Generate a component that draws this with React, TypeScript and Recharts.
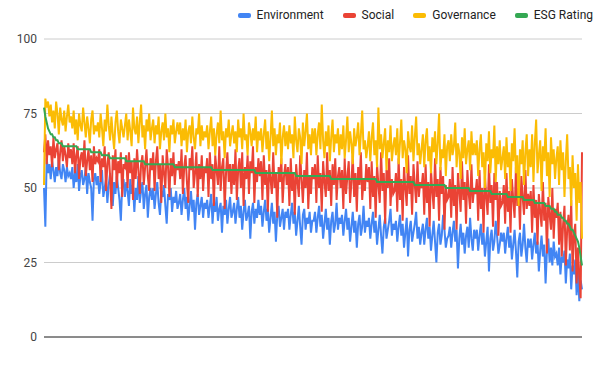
import React from "react";
import { LineChart, Line, XAxis, YAxis, CartesianGrid, ReferenceLine, Legend } from "recharts";

const yTicks = [0, 25, 50, 75, 100];

const seriesNames = ["Environment", "Social", "Governance", "ESG Rating"];
const seriesColors = ["#4285F4", "#EA4335", "#FBBC04", "#34A853"];

const environment = [
  50, 37, 60, 55, 58, 53, 59, 56, 52, 57, 54, 60, 55, 53, 58, 56, 52, 57, 54, 55,
  53, 57, 50, 55, 52, 58, 49, 54, 56, 51, 53, 57, 48, 55, 52, 50, 39, 53, 55, 51,
  54, 48, 52, 56, 47, 50, 53, 45, 51, 55, 49, 44, 52, 48, 54, 50, 46, 39, 51, 53,
  47, 52, 49, 44, 53, 48, 51, 42, 50, 46, 54, 45, 49, 52, 43, 48, 51, 40, 47, 50,
  46, 50, 43, 48, 52, 45, 41, 49, 47, 51, 44, 38, 48, 46, 50, 42, 47, 45, 49, 43,
  45, 48, 41, 46, 50, 43, 47, 39, 44, 49, 42, 46, 36, 45, 48, 41, 44, 47, 40, 45,
  43, 46, 40, 44, 48, 38, 45, 42, 47, 39, 43, 45, 35, 44, 41, 46, 38, 43, 47, 40,
  42, 45, 38, 43, 47, 40, 44, 36, 42, 46, 39, 41, 44, 33, 42, 45, 38, 43, 40, 46,
  41, 44, 37, 42, 46, 39, 43, 35, 40, 45, 38, 42, 32, 41, 44, 37, 40, 43, 36, 42,
  40, 43, 36, 41, 45, 38, 42, 34, 39, 44, 37, 31, 41, 43, 36, 40, 38, 42, 35, 39,
  39, 42, 35, 40, 44, 37, 41, 33, 38, 43, 36, 40, 31, 39, 42, 35, 38, 45, 36, 40,
  38, 41, 34, 39, 43, 36, 40, 32, 37, 42, 35, 39, 30, 38, 41, 34, 37, 44, 35, 39,
  37, 40, 33, 38, 42, 35, 39, 31, 36, 41, 34, 28, 37, 40, 33, 36, 39, 43, 34, 38,
  36, 39, 32, 37, 41, 34, 38, 30, 35, 40, 27, 36, 39, 32, 35, 38, 42, 33, 37, 31,
  35, 38, 31, 36, 40, 33, 37, 29, 34, 39, 32, 25, 35, 38, 31, 34, 41, 36, 30, 33,
  34, 37, 30, 35, 39, 32, 36, 23, 33, 38, 31, 35, 28, 34, 37, 30, 40, 33, 29, 36,
  33, 36, 29, 34, 38, 31, 35, 27, 32, 37, 22, 33, 36, 29, 32, 39, 34, 28, 31, 35,
  32, 35, 28, 33, 37, 30, 34, 26, 31, 36, 29, 20, 32, 35, 27, 31, 38, 30, 25, 33,
  30, 33, 26, 31, 35, 28, 32, 22, 29, 34, 27, 31, 18, 29, 33, 25, 30, 24, 32, 27,
  28, 24, 30, 21, 27, 25, 29, 18, 26, 23, 28, 16, 24, 21, 26, 14, 22, 12, 19, 16,
];

const social = [
  62, 68, 58, 66, 61, 64, 57, 67, 60, 63, 65, 56, 62, 66, 59, 64, 61, 57, 65, 60,
  63, 58, 65, 55, 61, 64, 53, 60, 62, 57, 66, 54, 59, 63, 56, 61, 52, 64, 58, 60,
  59, 63, 52, 60, 57, 64, 49, 58, 62, 54, 43, 61, 56, 63, 50, 59, 55, 62, 47, 58,
  57, 61, 50, 62, 55, 59, 46, 60, 53, 63, 56, 48, 58, 61, 51, 57, 63, 54, 49, 60,
  56, 62, 49, 59, 64, 53, 58, 45, 61, 55, 50, 63, 57, 47, 60, 54, 62, 51, 58, 56,
  59, 53, 63, 48, 57, 61, 52, 45, 60, 56, 64, 50, 55, 62, 47, 58, 53, 61, 49, 57,
  55, 60, 47, 62, 53, 58, 44, 61, 56, 51, 64, 49, 57, 60, 43, 55, 62, 52, 58, 48,
  58, 51, 63, 46, 56, 60, 50, 62, 44, 57, 53, 61, 48, 59, 55, 64, 45, 57, 52, 60,
  54, 59, 46, 61, 51, 56, 42, 58, 53, 48, 62, 50, 55, 40, 57, 52, 60, 45, 54, 58,
  51, 57, 44, 60, 49, 55, 41, 58, 52, 47, 61, 53, 45, 56, 50, 62, 43, 54, 48, 57,
  53, 58, 45, 61, 50, 55, 42, 59, 52, 47, 62, 49, 56, 44, 58, 51, 60, 46, 54, 57,
  50, 56, 43, 60, 48, 54, 59, 45, 52, 61, 47, 55, 42, 57, 51, 62, 46, 53, 49, 58,
  52, 57, 43, 59, 47, 54, 40, 58, 51, 45, 62, 49, 55, 38, 56, 50, 60, 44, 53, 48,
  49, 55, 42, 60, 46, 53, 39, 57, 50, 44, 61, 48, 54, 41, 58, 51, 45, 59, 47, 52,
  50, 55, 41, 58, 45, 52, 37, 56, 49, 43, 60, 47, 53, 39, 57, 48, 54, 36, 51, 46,
  47, 53, 40, 57, 44, 51, 36, 55, 49, 42, 59, 46, 52, 38, 56, 48, 43, 58, 45, 50,
  48, 53, 39, 56, 43, 50, 35, 54, 47, 41, 58, 45, 51, 37, 55, 46, 52, 34, 49, 44,
  45, 51, 38, 55, 42, 49, 35, 53, 46, 40, 57, 44, 50, 36, 54, 47, 41, 56, 43, 48,
  44, 49, 35, 51, 40, 46, 31, 48, 42, 37, 52, 39, 45, 28, 47, 41, 36, 50, 33, 43,
  40, 45, 31, 42, 27, 38, 44, 24, 36, 41, 29, 46, 22, 34, 38, 18, 30, 20, 13, 62,
];

const governance = [
  51, 80, 77, 79, 74, 78, 72, 76, 70, 79, 75, 68, 77, 73, 71, 76, 69, 74, 78, 72,
  74, 70, 76, 68, 73, 66, 75, 71, 69, 77, 72, 67, 74, 70, 65, 73, 76, 68, 71, 69,
  72, 67, 75, 70, 64, 73, 69, 78, 71, 66, 74, 68, 63, 72, 76, 69, 65, 73, 70, 67,
  71, 75, 66, 73, 69, 64, 77, 70, 68, 74, 65, 72, 78, 67, 71, 63, 73, 69, 75, 66,
  70, 73, 65, 71, 68, 74, 63, 69, 72, 66, 75, 67, 70, 62, 71, 68, 73, 65, 69, 72,
  68, 72, 64, 70, 66, 73, 62, 69, 71, 65, 74, 67, 63, 70, 68, 75, 64, 71, 66, 69,
  67, 71, 63, 69, 74, 64, 70, 61, 68, 72, 65, 76, 66, 69, 60, 70, 67, 73, 64, 68,
  71, 65, 69, 62, 73, 67, 70, 63, 75, 66, 68, 61, 72, 69, 64, 70, 66, 74, 62, 69,
  66, 70, 62, 68, 73, 63, 69, 59, 67, 76, 64, 70, 61, 68, 65, 72, 58, 67, 71, 64,
  69, 63, 71, 65, 68, 60, 74, 66, 62, 70, 67, 58, 72, 64, 69, 75, 63, 68, 61, 70,
  65, 70, 61, 68, 72, 63, 78, 66, 60, 69, 64, 71, 59, 67, 73, 62, 68, 65, 70, 61,
  68, 63, 71, 60, 66, 74, 62, 69, 65, 58, 70, 64, 67, 72, 61, 68, 76, 63, 66, 60,
  64, 69, 59, 67, 72, 61, 66, 57, 77, 63, 68, 60, 65, 70, 56, 66, 62, 71, 59, 64,
  67, 61, 70, 58, 65, 73, 60, 66, 63, 55, 69, 64, 62, 71, 59, 67, 74, 61, 65, 58,
  63, 68, 57, 66, 70, 59, 64, 55, 67, 62, 69, 58, 65, 75, 56, 63, 60, 68, 54, 64,
  66, 59, 68, 61, 64, 72, 57, 65, 62, 53, 67, 60, 70, 58, 63, 66, 56, 69, 61, 65,
  61, 66, 54, 63, 68, 57, 62, 50, 65, 59, 69, 55, 63, 60, 71, 52, 64, 58, 66, 56,
  60, 64, 53, 67, 57, 62, 49, 65, 59, 70, 55, 61, 44, 63, 58, 66, 51, 62, 68, 54,
  63, 57, 68, 52, 65, 73, 55, 61, 66, 49, 64, 59, 70, 54, 62, 47, 67, 58, 63, 53,
  60, 64, 51, 66, 56, 62, 47, 59, 68, 53, 57, 44, 61, 50, 55, 39, 58, 45, 52, 33,
];

const esgRating = [
  77, 74, 72, 70, 69, 68, 68, 67, 67, 66, 66, 65, 65, 65, 64, 64, 64, 64, 64, 64,
  64, 64, 64, 64, 64, 63, 63, 63, 63, 63, 63, 63, 63, 63, 63, 62, 62, 62, 62, 62,
  62, 62, 62, 61, 61, 61, 61, 61, 61, 60, 60, 60, 60, 60, 60, 60, 60, 60, 60, 60,
  60, 59, 59, 59, 59, 59, 59, 59, 59, 59, 59, 59, 59, 59, 59, 58, 58, 58, 58, 58,
  58, 58, 58, 58, 58, 58, 58, 58, 58, 58, 58, 58, 58, 58, 58, 58, 58, 57, 57, 57,
  57, 57, 57, 57, 57, 57, 57, 57, 57, 57, 57, 57, 57, 57, 57, 57, 57, 57, 57, 57,
  57, 57, 57, 57, 57, 56, 56, 56, 56, 56, 56, 56, 56, 56, 56, 56, 56, 56, 56, 56,
  56, 56, 56, 56, 56, 56, 56, 56, 56, 56, 56, 56, 56, 56, 56, 56, 56, 55, 55, 55,
  55, 55, 55, 55, 55, 55, 55, 55, 55, 55, 55, 55, 55, 55, 55, 55, 55, 55, 55, 55,
  55, 55, 55, 55, 55, 55, 55, 54, 54, 54, 54, 54, 54, 54, 54, 54, 54, 54, 54, 54,
  54, 54, 54, 54, 54, 54, 54, 54, 54, 54, 54, 54, 54, 53, 53, 53, 53, 53, 53, 53,
  53, 53, 53, 53, 53, 53, 53, 53, 53, 53, 53, 53, 53, 53, 53, 53, 53, 53, 53, 53,
  53, 53, 53, 53, 53, 53, 53, 52, 52, 52, 52, 52, 52, 52, 52, 52, 52, 52, 52, 52,
  52, 52, 52, 52, 52, 52, 52, 52, 52, 52, 52, 52, 52, 52, 52, 51, 51, 51, 51, 51,
  51, 51, 51, 51, 51, 51, 51, 51, 51, 51, 51, 51, 51, 51, 51, 51, 51, 51, 50, 50,
  50, 50, 50, 50, 50, 50, 50, 50, 50, 50, 50, 50, 50, 50, 50, 50, 49, 49, 49, 49,
  49, 49, 49, 49, 49, 49, 49, 49, 49, 49, 49, 49, 48, 48, 48, 48, 48, 48, 48, 48,
  48, 48, 48, 48, 47, 47, 47, 47, 47, 47, 47, 47, 47, 47, 47, 47, 46, 46, 46, 46,
  46, 46, 46, 46, 45, 45, 45, 45, 45, 45, 45, 45, 44, 44, 44, 44, 43, 43, 43, 42,
  42, 41, 41, 41, 40, 40, 39, 39, 38, 38, 37, 36, 36, 35, 34, 33, 32, 30, 27, 24,
];

const data = esgRating.map((v, i) => ({
  company: i + 1,
  environment: environment[i],
  social: social[i],
  governance: governance[i],
  esg: v,
}));

const FONT = "Roboto, Arial, sans-serif";

const LegendContent = () => (
  <div
    style={{
      display: "flex",
      justifyContent: "flex-end",
      alignItems: "center",
      fontFamily: FONT,
      fontSize: 12,
      color: "#222",
      whiteSpace: "nowrap",
    }}
  >
    {seriesNames.map((n, i) => (
      <div key={n} style={{ display: "flex", alignItems: "center", marginLeft: i === 0 ? 0 : 19 }}>
        <span
          style={{
            display: "inline-block",
            width: 13,
            height: 5,
            borderRadius: 2,
            background: seriesColors[i],
            marginRight: 6,
          }}
        />
        <span>{n}</span>
      </div>
    ))}
  </div>
);

export default function App() {
  return (
    <div style={{ position: "absolute", left: 0, top: 0, width: 611, height: 365, background: "#fff" }}>
      <LineChart width={611} height={365} data={data} margin={{ top: 39, right: 29, bottom: 28, left: 0 }}>
        <CartesianGrid vertical={false} stroke="#cccccc" strokeWidth={1} />
        <XAxis dataKey="company" hide />
        <YAxis
          width={44}
          domain={[0, 100]}
          ticks={yTicks}
          axisLine={false}
          tickLine={false}
          tickMargin={1}
          tick={{ fill: "#444", fontSize: 12, fontFamily: FONT }}
        />
        <ReferenceLine y={0} stroke="#333" strokeWidth={1} />
        <Legend
          layout="horizontal"
          verticalAlign="middle"
          align="center"
          wrapperStyle={{ top: 8, left: 180, width: 413, height: 16 }}
          content={() => <LegendContent />}
        />
        <Line type="linear" dataKey="environment" name="Environment" stroke={seriesColors[0]} strokeWidth={2} dot={false} isAnimationActive={false} />
        <Line type="linear" dataKey="social" name="Social" stroke={seriesColors[1]} strokeWidth={2} dot={false} isAnimationActive={false} />
        <Line type="linear" dataKey="governance" name="Governance" stroke={seriesColors[2]} strokeWidth={2} dot={false} isAnimationActive={false} />
        <Line type="linear" dataKey="esg" name="ESG Rating" stroke={seriesColors[3]} strokeWidth={2} dot={false} isAnimationActive={false} />
      </LineChart>
    </div>
  );
}
